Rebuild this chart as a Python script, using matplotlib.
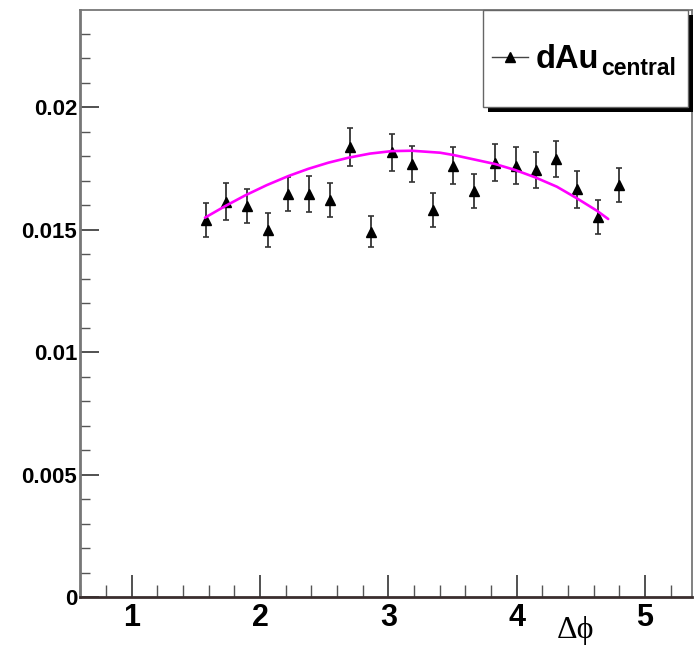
import matplotlib
matplotlib.use('Agg')
import matplotlib.pyplot as plt
from matplotlib.ticker import MultipleLocator, FixedLocator
from matplotlib.patches import Rectangle
from matplotlib.lines import Line2D

# ---------------- data ----------------
dphi = [1.577, 1.735, 1.899, 2.060, 2.221, 2.384, 2.543, 2.704, 2.863, 3.026,
        3.187, 3.346, 3.504, 3.670, 3.834, 3.995, 4.151, 4.309, 4.473, 4.632, 4.798]
yield_vals = [0.01539, 0.01614, 0.01597, 0.01498, 0.01645, 0.01645, 0.01620, 0.01838,
              0.01491, 0.01815, 0.01766, 0.01580, 0.01760, 0.01657, 0.01773, 0.01760,
              0.01743, 0.01788, 0.01664, 0.01552, 0.01682]
yield_err = [0.00070, 0.00075, 0.00070, 0.00069, 0.00071, 0.00073, 0.00070, 0.00078,
             0.00064, 0.00075, 0.00073, 0.00071, 0.00075, 0.00070, 0.00075, 0.00075,
             0.00075, 0.00075, 0.00075, 0.00069, 0.00071]

# fit curve, points
fit_x = [1.571, 1.727, 1.883, 2.052, 2.221, 2.376, 2.532, 2.688, 2.857, 3.026, 3.182,
         3.403, 3.507, 3.663, 3.832, 3.988, 4.143, 4.313, 4.469, 4.625, 4.713]
fit_y = [0.015484, 0.015952, 0.016389, 0.016811, 0.017183, 0.017477, 0.017727, 0.017930,
         0.018099, 0.018200, 0.018216, 0.018135, 0.018041, 0.017865, 0.017673, 0.017429,
         0.017131, 0.016747, 0.016273, 0.015767, 0.015429]

x_ticks = [1, 2, 3, 4, 5]
x_tick_labels = ['1', '2', '3', '4', '5']
y_ticks = [0, 0.005, 0.01, 0.015, 0.02]
y_tick_labels = ['0', '0.005', '0.01', '0.015', '0.02']
x_title = 'Δϕ'
legend_main = 'dAu'
legend_sub = 'central'

W, H = 694, 645
fig = plt.figure(figsize=(W / 100, H / 100), dpi=100)
fig.patch.set_facecolor('white')

ax = fig.add_axes([80 / W, 48 / H, 612 / W, 587 / H])
ax.set_xlim(0.597, 5.366)
ax.set_ylim(0, 0.02396)

ax.errorbar(dphi, yield_vals, yerr=yield_err, fmt='^', color='black', ms=7.5,
            ecolor='#333333', elinewidth=1.3, capsize=2.5, capthick=1.2, zorder=3)
ax.plot(fit_x, fit_y, color='#ff00ff', lw=1.9, zorder=4,
        solid_joinstyle='round', solid_capstyle='round')

# spines
for side in ['top', 'right']:
    ax.spines[side].set_color('#777777')
    ax.spines[side].set_linewidth(1.3)
ax.spines['left'].set_color('#777777')
ax.spines['left'].set_linewidth(2.0)
ax.spines['bottom'].set_color('#3a2e2e')
ax.spines['bottom'].set_linewidth(2.0)

# ticks
ax.xaxis.set_major_locator(FixedLocator(x_ticks))
ax.set_xticklabels(x_tick_labels)
ax.xaxis.set_minor_locator(MultipleLocator(0.2))
ax.yaxis.set_major_locator(FixedLocator(y_ticks))
ax.set_yticklabels(y_tick_labels)
ax.yaxis.set_minor_locator(MultipleLocator(0.001))

ax.tick_params(axis='x', which='major', direction='in', length=16, width=1.2,
               color='#333333', pad=4, labelsize=22)
ax.tick_params(axis='x', which='minor', direction='in', length=8.5, width=1.0,
               color='#555555')
ax.tick_params(axis='y', which='major', direction='in', length=13.5, width=1.2,
               color='#333333', pad=2, labelsize=16)
ax.tick_params(axis='y', which='minor', direction='in', length=7.5, width=1.0,
               color='#555555')
for lab in ax.get_xticklabels() + ax.get_yticklabels():
    lab.set_family(['Liberation Sans', 'DejaVu Sans'])
    lab.set_fontweight('bold')

# axis title
fig.text(557 / W, 1 - 638 / H, x_title, fontsize=23,
         family=['Liberation Serif', 'DejaVu Serif'], ha='left', va='baseline')

# legend box with shadow
bx0, bx1, by0, by1 = 483, 688, 10, 107
sh = 5
fig.add_artist(Rectangle(((bx0 + sh) / W, 1 - (by1 + sh) / H), (bx1 - bx0) / W,
                         (by1 - by0) / H, transform=fig.transFigure,
                         facecolor='black', edgecolor='black', lw=0, zorder=5))
fig.add_artist(Rectangle((bx0 / W, 1 - by1 / H), (bx1 - bx0) / W, (by1 - by0) / H,
                         transform=fig.transFigure, facecolor='white',
                         edgecolor='#666666', lw=1.0, zorder=6))
fig.add_artist(Line2D([492 / W, 528 / W], [1 - 57 / H, 1 - 57 / H],
                      transform=fig.transFigure, color='#444444', lw=1.0, zorder=7))
fig.add_artist(Line2D([510 / W], [1 - 57 / H], transform=fig.transFigure,
                      marker='^', ms=6.5, color='black', lw=0, zorder=8))
t_main = fig.text(536 / W, 1 - 68 / H, legend_main, fontsize=23.5, fontweight='bold',
                  family=['Liberation Sans', 'DejaVu Sans'], ha='left', va='baseline',
                  zorder=8)
renderer = fig.canvas.get_renderer()
bb = t_main.get_window_extent(renderer=renderer)
fig.text((bb.x1 + 2) / W, 1 - 75 / H, legend_sub, fontsize=16.5, fontweight='bold',
         family=['Liberation Sans', 'DejaVu Sans'], ha='left', va='baseline', zorder=8)

fig.savefig('out.png', dpi=100, facecolor='white')
